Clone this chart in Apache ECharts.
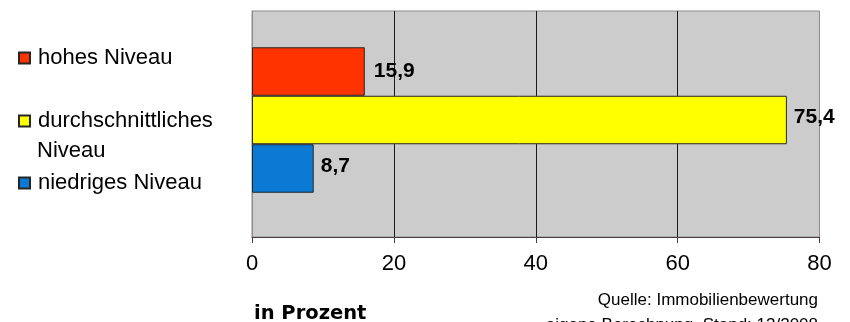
<!DOCTYPE html>
<html>
<head>
<meta charset="utf-8">
<title>Niveau der Immobilienbewertung</title>
<script src="https://cdn.jsdelivr.net/npm/echarts@6/dist/echarts.min.js"></script>
<style>
  html, body { margin: 0; padding: 0; background: #ffffff; }
  #chart { width: 850px; height: 322px; }
</style>
</head>
<body>
<div id="chart"></div>
<script>
// Anteile der Bewertungsniveaus (in Prozent)
const seriesNames = ['hohes Niveau', 'durchschnittliches Niveau', 'niedriges Niveau'];
const seriesValues = [15.9, 75.4, 8.7];
const seriesColors = ['#ff3300', '#ffff00', '#0a7ad5'];
const xTicks = [0, 20, 40, 60, 80];
const sourceLines = ['Quelle: Immobilienbewertung', 'eigene Berechnung, Stand: 12/2008'];
const axisTitle = 'in Prozent';

const regular = '"Liberation Sans", Arial, sans-serif';
const wideBold = '"DejaVu Sans", "Liberation Sans", sans-serif';
const labelOffsets = [[0, 0], [0, -3], [0, -2]];
const labelDistances = [9, 7, 7];

const fmt = v => String(v).replace('.', ',');

const chart = echarts.init(document.getElementById('chart'), null, { renderer: 'canvas' });

const barSeries = seriesNames.map((name, i) => ({
  type: 'bar',
  name: name,
  data: [seriesValues[i]],
  barWidth: 48.5,
  barGap: 0,
  itemStyle: { color: seriesColors[i], borderColor: '#262626', borderWidth: 1 },
  label: {
    show: true,
    position: 'right',
    distance: labelDistances[i],
    offset: labelOffsets[i],
    formatter: p => fmt(p.value),
    fontFamily: regular,
    fontWeight: 'bold',
    fontSize: 21,
    color: '#000'
  },
  emphasis: { disabled: true },
  silent: true
}));

// empty slot below the bars, keeps the bar group slightly above the band centre
barSeries.push({
  type: 'bar',
  name: 'slot',
  data: [null],
  barWidth: 8,
  barGap: 0,
  silent: true
});

function legendFor(i, top, label) {
  return {
    orient: 'vertical',
    left: 18,
    top: top,
    padding: 0,
    itemWidth: 11,
    itemHeight: 11,
    selectedMode: false,
    icon: 'rect',
    data: [seriesNames[i]],
    formatter: label ? () => label : undefined,
    textStyle: {
      fontFamily: regular,
      fontSize: 22,
      lineHeight: 24,
      color: '#000',
      padding: [0, 0, 0, 3]
    }
  };
}

chart.setOption({
  animation: false,
  backgroundColor: '#ffffff',
  grid: {
    left: 252,
    right: 30.5,
    top: 11,
    bottom: 85,
    show: true,
    backgroundColor: '#cccccc',
    borderColor: '#8c8c8c',
    borderWidth: 1
  },
  legend: [
    legendFor(0, 46),
    legendFor(1, 109, 'durchschnittliches'),
    legendFor(2, 171)
  ],
  xAxis: {
    type: 'value',
    min: xTicks[0],
    max: xTicks[xTicks.length - 1],
    interval: xTicks[1] - xTicks[0],
    axisLine: { show: true, lineStyle: { color: '#4a3c3c', width: 1 } },
    axisTick: { show: true, length: 6, lineStyle: { color: '#4a3c3c' } },
    axisLabel: {
      fontFamily: regular,
      fontSize: 22,
      color: '#000',
      margin: 16,
      formatter: v => fmt(v)
    },
    splitLine: {
      show: true,
      showMinLine: false,
      showMaxLine: false,
      lineStyle: { color: '#1a1a1a', width: 1 }
    }
  },
  yAxis: {
    type: 'category',
    data: [''],
    axisLine: { show: true, lineStyle: { color: '#8c8c8c' } },
    axisTick: { show: false },
    axisLabel: { show: false },
    splitLine: { show: false }
  },
  series: barSeries,
  graphic: [
    {
      type: 'text',
      left: 37,
      top: 139,
      style: {
        text: 'Niveau',
        fontFamily: regular,
        fontSize: 22,
        lineHeight: 24,
        fill: '#000'
      }
    },
    {
      type: 'text',
      left: 254,
      top: 302,
      style: {
        text: axisTitle,
        fontFamily: wideBold,
        fontWeight: 'bold',
        fontSize: 19.5,
        lineHeight: 24,
        fill: '#000'
      }
    },
    {
      type: 'text',
      right: 32,
      top: 290,
      style: {
        text: sourceLines[0],
        fontFamily: regular,
        fontSize: 17,
        lineHeight: 21,
        fill: '#000'
      }
    },
    {
      type: 'text',
      right: 32,
      top: 315,
      style: {
        text: sourceLines[1],
        fontFamily: regular,
        fontSize: 17,
        lineHeight: 21,
        fill: '#000'
      }
    }
  ]
});
</script>
</body>
</html>
